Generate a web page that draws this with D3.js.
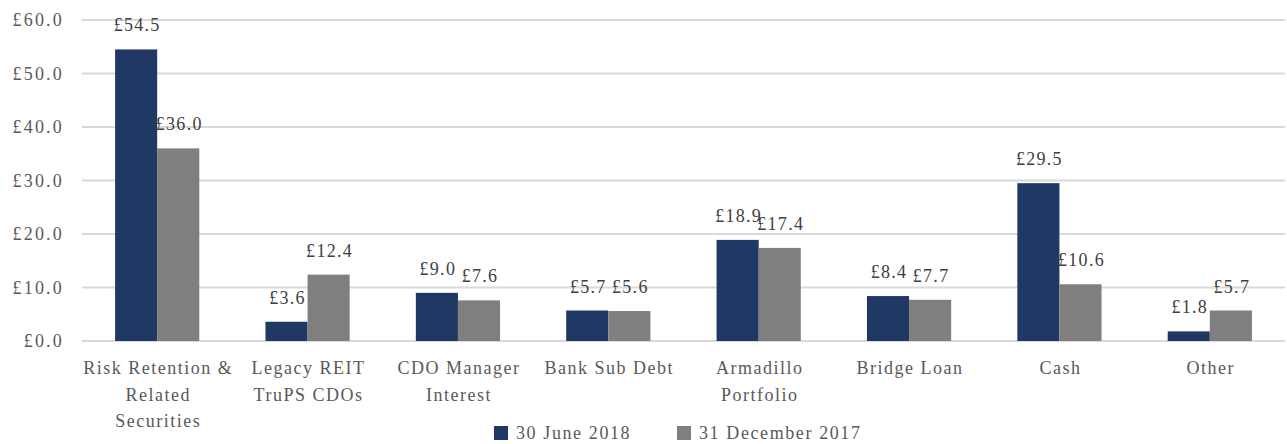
<!DOCTYPE html>
<meta charset="utf-8">
<script src="https://d3js.org/d3.v7.min.js"></script>
<style>
  body { margin: 0; background: #fff; }
  text { font-family: "Liberation Serif", "DejaVu Serif", serif; }
</style>
<body>
<div id="chart"></div>
<script>
  // data
  var categories = [
    ["Risk Retention &", "Related", "Securities"],
    ["Legacy REIT", "TruPS CDOs"],
    ["CDO Manager", "Interest"],
    ["Bank Sub Debt"],
    ["Armadillo", "Portfolio"],
    ["Bridge Loan"],
    ["Cash"],
    ["Other"]
  ];
  var june2018 = [54.5, 3.6, 9.0, 5.7, 18.9, 8.4, 29.5, 1.8];
  var dec2017 = [36.0, 12.4, 7.6, 5.6, 17.4, 7.7, 10.6, 5.7];
  var seriesNames = ["30 June 2018", "31 December 2017"];
  var seriesColors = ["#203864", "#7f7f7f"];
  var yTicks = [0, 10, 20, 30, 40, 50, 60];

  var W = 1287, H = 444;
  var margin = {top: 20, right: 2, bottom: 103, left: 82};
  var width = W - margin.left - margin.right,
      height = H - margin.top - margin.bottom;

  var svg = d3.select("#chart").append("svg")
      .attr("width", W).attr("height", H);
  var g = svg.append("g")
      .attr("transform", "translate(" + margin.left + "," + margin.top + ")");

  var idx = d3.range(categories.length);
  var x0 = d3.scaleBand().domain(idx).range([0, width]).paddingInner(0.44).paddingOuter(0.22);
  var x1 = d3.scaleBand().domain([0, 1]).range([0, x0.bandwidth()]);
  var y = d3.scaleLinear().domain([0, 60]).range([height, 0]);

  // gridlines
  g.selectAll(".grid").data(yTicks).enter().append("line")
      .attr("x1", 0).attr("x2", width)
      .attr("y1", function(d) { return y(d); })
      .attr("y2", function(d) { return y(d); })
      .attr("stroke", "#d9d9d9").attr("stroke-width", 2);

  // y axis labels
  var yAxis = g.append("g")
      .call(d3.axisLeft(y).tickValues(yTicks).tickSize(0).tickPadding(18)
        .tickFormat(function(d) { return "£" + d.toFixed(1); }));
  yAxis.select(".domain").remove();
  yAxis.selectAll("text").attr("fill", "#595959").style("font-size", "18px")
      .style("font-family", "Liberation Serif").style("letter-spacing", "2.2px");

  var rows = idx.map(function(i) {
    return [june2018[i], dec2017[i]];
  });

  var groups = g.selectAll(".cat").data(rows).enter().append("g")
      .attr("transform", function(d, i) { return "translate(" + x0(i) + ",0)"; });

  groups.selectAll("rect").data(function(d) { return d; }).enter().append("rect")
      .attr("x", function(d, j) { return x1(j); })
      .attr("y", function(d) { return y(d); })
      .attr("width", x1.bandwidth())
      .attr("height", function(d) { return height - y(d); })
      .attr("fill", function(d, j) { return seriesColors[j]; });

  groups.selectAll(".lbl").data(function(d) { return d; }).enter().append("text")
      .attr("class", "lbl")
      .attr("x", function(d, j) { return x1(j) + x1.bandwidth() / 2 + 1; })
      .attr("y", function(d) { return y(d) - 18; })
      .attr("text-anchor", "middle")
      .attr("fill", "#404040")
      .style("font-size", "18px")
      .style("letter-spacing", "1.3px")
      .text(function(d) { return "£" + d.toFixed(1); });

  // category labels
  g.selectAll(".xl").data(categories).enter().append("text")
      .attr("x", function(d, i) { return x0(i) + x0.bandwidth() / 2 + 1; })
      .attr("y", height + 33)
      .attr("text-anchor", "middle")
      .attr("fill", "#595959")
      .style("font-size", "18px")
      .style("letter-spacing", "1.5px")
      .each(function(d) {
        var t = d3.select(this);
        d.forEach(function(line, k) {
          t.append("tspan").attr("x", t.attr("x")).attr("dy", k === 0 ? 0 : 26.5).text(line);
        });
      });

  // legend
  var legend = svg.append("g").attr("transform", "translate(494," + 426 + ")");
  var legX = [0, 183];
  seriesNames.forEach(function(name, j) {
    legend.append("rect").attr("x", legX[j]).attr("y", 0)
        .attr("width", 14).attr("height", 14).attr("fill", seriesColors[j]);
    legend.append("text").attr("x", legX[j] + 22).attr("y", 13)
        .attr("fill", "#595959").style("font-size", "18px")
        .style("letter-spacing", "1.6px").text(name);
  });
</script>
</body>
